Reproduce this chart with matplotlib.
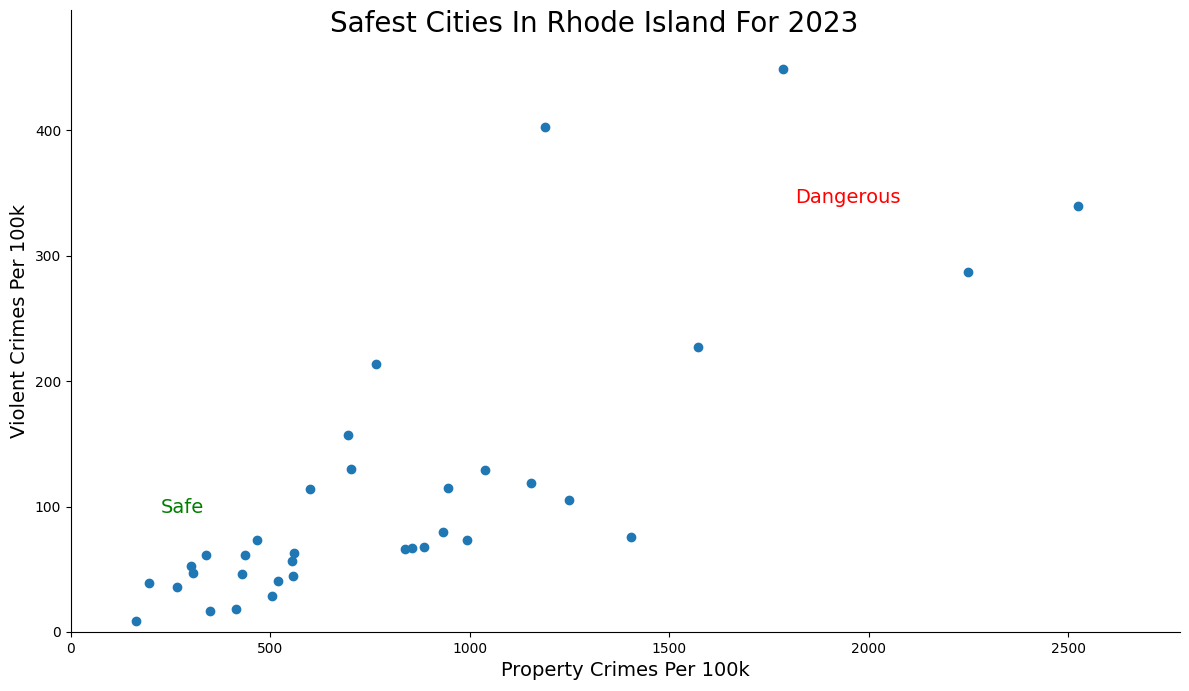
import matplotlib
matplotlib.use('Agg')
import matplotlib.pyplot as plt

property_crimes = [1785, 1189, 2525, 2249, 1572, 765, 695, 702, 599, 1038,
                   945, 1153, 1249, 1404, 933, 993, 885, 855, 838, 466,
                   436, 339, 301, 306, 429, 559, 554, 557, 519, 504,
                   414, 349, 266, 196, 163]
violent_crimes = [449, 403, 340, 287, 227, 214, 157, 130, 114, 129,
                  115, 119, 105, 76, 80, 73, 68, 67, 66, 73,
                  61, 61, 53, 47, 46, 63, 57, 45, 41, 29,
                  18, 17, 36, 39, 9]

fig = plt.figure(figsize=(11.89, 6.91), dpi=100)
ax = fig.add_axes([0.0597, 0.0854, 0.9327, 0.9001])
ax.scatter(property_crimes, violent_crimes)
ax.set_xlim(0, 2780)
ax.set_ylim(0, 496)
ax.spines['top'].set_visible(False)
ax.spines['right'].set_visible(False)
ax.set_xlabel("Property Crimes Per 100k", fontsize=14)
ax.set_ylabel("Violent Crimes Per 100k", fontsize=14)
ax.text(1815, 342, "Dangerous", color='red', fontsize=14)
ax.text(226, 95, "Safe", color='green', fontsize=14)
fig.suptitle("Safest Cities In Rhode Island For 2023", fontsize=20, y=0.985)

plt.savefig("out.png")
